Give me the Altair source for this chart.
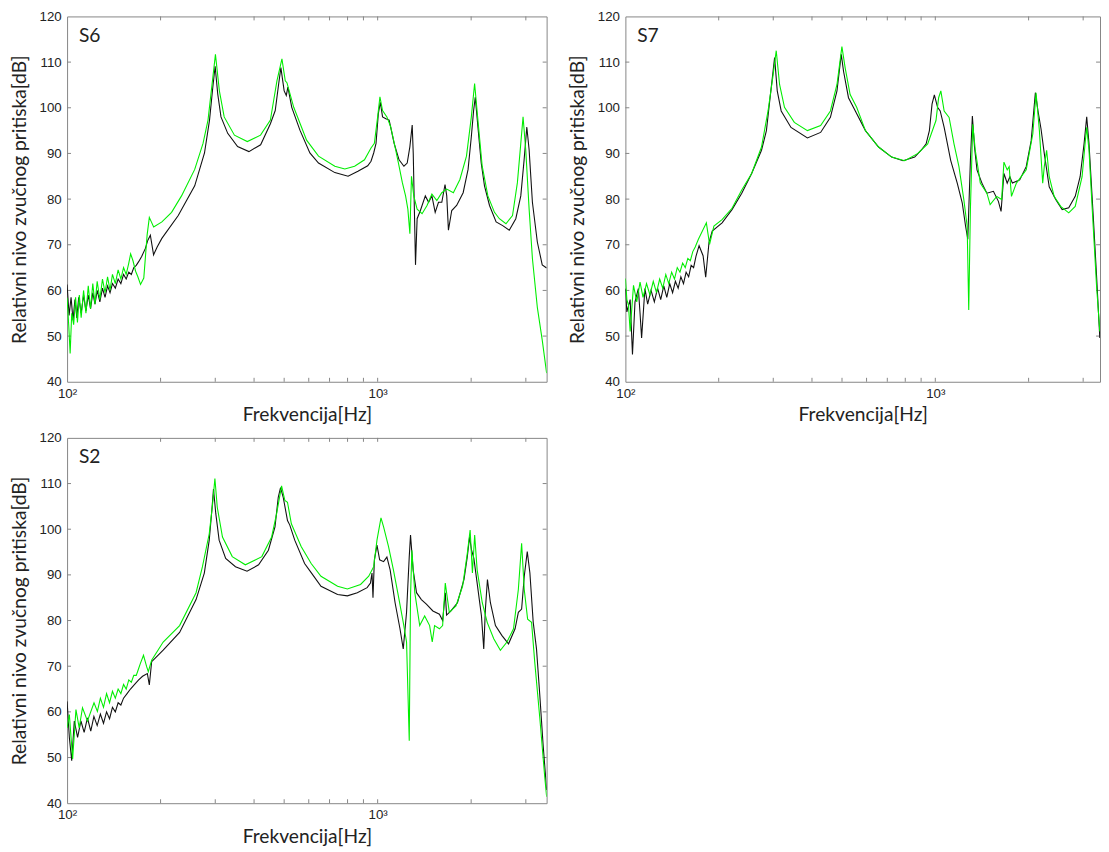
import altair as alt
import pandas as pd

# ---------------- data ----------------
s6_black_f = [100,101.5,103,104.5,106,107.5,109,111,113,115,117,119,121,123,125,127.5,130,132.5,135,137.5,140,143,146,149,152,155,158,161,164,167,170,174,178.7,182,185.4,189.9,195,201.9,228,257.6,277,287.5,294.6,299.7,305.6,313,329,354,385,420,451.5,468,480,488,500,508,514,529,562,605,645,728,803,864,929,952,971,988,1005,1020,1037,1063,1089,1130,1172,1215,1245,1270,1292,1302,1324,1340,1373,1424,1459,1495,1532,1570,1609,1648,1669,1690,1732,1796,1885,1955,2003,2037,2062,2103,2155,2208,2292,2407,2527,2653,2785,2890,2962,3022,3074,3150,3267,3388,3500]
s6_black_db = [61.3,54.5,58.5,53.5,58,54,58.5,55,59,55.5,59,56,59.5,57,60,57.5,60.5,58.5,61,59.5,61.5,60.5,62.5,61.5,63.5,62.5,64,63.5,65,65.5,66.3,67.5,69.2,71,72.1,67.8,69.5,71.4,76.4,82.9,90.1,97.3,104.5,109.1,103,98,94.4,91.5,90.4,91.9,96.5,99.4,105.2,108.8,103.7,102.7,104.5,100.1,95.1,90.1,87.9,85.8,85.0,86.1,87.3,88.3,90.1,92.2,98.7,101.2,98,97.6,97.3,92.2,88.6,87.2,87.9,91.5,96.2,90,65.6,75.7,77.5,80.7,79.3,80.7,77.1,79.3,79.3,83.2,80.7,73.2,77.5,78.6,81.4,86.5,93.7,99.4,102.3,95.8,87.9,82.9,78.6,75,74.2,73.2,75.7,80.7,88.6,95.8,90.8,79.3,70.6,65.6,64.9]

s6_green_f = [100,101.3,102.3,103.5,105,106.5,108,109.5,111,113,115,117,119,121,123,125,127.5,130,132.5,135,137.5,140,143,146,149,152,155,158,160.2,163,166.2,169,172.4,176.6,181,184,190,202,217,233.6,257.6,274,284.3,294.6,300.4,309.3,320.5,345.8,380.5,419.7,451.5,473.9,491.8,504.1,510.4,536.8,590.5,645,728,784,843,907,952,976,1000,1017,1037,1071,1102,1143,1172,1201,1230,1251,1270,1285,1307,1340,1390,1442,1495,1551,1609,1669,1753,1840,1932,2003,2052,2103,2171,2264,2378,2466,2589,2718,2818,2890,2939,2998,3074,3150,3267,3388,3500]
s6_green_db = [58.4,52,46.2,55,52.5,58.5,53,59,54,60,55,61,56,61.5,57,62,58,62.5,59.5,63,60,63.5,61.5,64.5,62.5,65,63.5,66,68,66.5,64.2,63,61.3,62.7,72.1,76,73.9,75,77.1,80.7,86.5,92.2,97.3,106.6,111.7,103.7,98,94,92.6,94,97.3,105.9,110.7,105.9,105.5,100.1,92.9,89.4,87.2,86.6,87.2,88.6,91.2,92.2,98,102.4,99.4,98,95.8,90.8,87.2,83.6,80.7,77.8,72.4,85,80.7,77.8,76.8,78.6,81.1,79.7,81.4,82.2,81.4,84.3,89.4,98,105.3,97.3,87.2,80.7,77.1,75.7,74.6,76.4,83.6,92.2,98,90.8,77.8,67,56.3,49.1,41.9]

s7_black_f = [100,101.1,103.6,105.4,107.4,110.1,111.5,112.8,115.6,118,121,124,127,130,133,136,139,142,145,148,151,154,157,160,163,166,169,172.9,178.1,181.6,186.1,190.6,205.1,220.8,237.4,255.5,274.9,285.1,292.2,297.9,303,309,318.2,342.2,386.7,426.5,458.7,481.6,497.2,505.7,524.6,544.1,595,656,723,787,858,900,934,957,976,993,1017,1037,1068,1121,1177,1222,1252,1273,1298,1317,1338,1363,1414,1467,1540,1598,1630,1665,1706,1740,1773,1872,1965,2039,2103,2145,2193,2247,2331,2446,2567,2695,2828,2933,3020,3080,3133,3233,3313,3395]
s7_black_db = [60.4,55.3,58,46,57.5,60.4,55,49.6,60.4,57,60,57.5,60.5,58,61,58.5,61.5,59.5,62,60.5,63,61.5,64,63,65.5,65,67.5,69.8,67.6,62.9,70.5,73,74.8,77.7,81.3,85.6,90.7,95,101.5,106.5,111,103.7,99.3,95.7,93.4,94.6,97.9,103.7,111.7,108,102.2,100.1,95,91.4,89.2,88.4,89.2,90.7,92.1,95,100.8,102.8,100.1,99.3,95.7,88.5,83.5,79.1,74.1,71.2,88.5,98.2,91.4,86.4,83.5,81.3,81.7,79.5,77.3,85.6,83.5,84.9,83.5,84.2,87.1,92.8,103.3,99.3,95.4,90,82.7,79.9,77.7,78.1,80.6,84.9,92.1,98,92.1,76.3,63.3,49.6]

s7_green_f = [100,101.1,102.3,103.6,106.2,108.8,111.5,114,117,120,123,126,129,132,135,138,141,144,147,150,153,156,159,162,165,168,172,182.5,186.9,193,205.1,220.8,237.4,255.5,274.9,288.6,298.7,306.7,314.4,326.1,350.8,386.7,426.5,458.7,481.6,499.6,512,531.1,557.5,595,656,723,797,879,945,1005,1025,1042,1068,1108,1149,1192,1236,1267,1282,1298,1321,1346,1397,1467,1503,1578,1637,1665,1706,1731,1761,1827,1965,2064,2114,2167,2221,2247,2287,2331,2418,2539,2695,2828,2976,3049,3080,3133,3201,3313,3395]
s7_green_db = [62.6,58,56.8,51,61.1,57.5,61.8,58.5,61.5,59,62,59.5,62.5,60.5,63.5,61.5,64,62.5,65,64,66,65,67,66.5,68.5,69.5,71.2,74.8,70.1,74.1,75.5,78,82,85.6,91.4,99.3,106.5,112.5,105.1,100.1,96.8,95,96.1,99.3,105.1,113.4,108.7,102.9,100.1,95,91.4,89.2,88.4,90,92.1,97.2,102.2,103.7,99.3,97.9,92.1,87.1,79.9,74.1,55.7,77.7,96.4,90.7,83.5,81.3,78.8,80.6,79.9,88.1,86.4,87.1,80.6,83.5,86.4,94.3,103.3,95,83.5,87.1,90.7,84.9,80.6,78.4,77,78.4,84.9,92.8,95.7,90.7,79.1,61.1,51]

s2_black_f = [100,101.7,103.5,105.5,108.1,110.8,113.5,116.3,119.2,122,125,128,131,134,137,140,143,146,149,152,156,160,165,170,175,181.3,184,187.2,203.9,230.3,260.2,276.6,286.9,292.5,296.1,301.2,308.7,324.1,348.5,379.7,413.6,444.9,467.1,478.6,486.8,496.5,512.5,521.4,540.8,581.8,610.9,657,743,799,860,925,948,959,966,976,995,1015,1045,1071,1097,1138,1180,1209,1239,1264,1276,1301,1334,1383,1435,1506,1581,1619,1651,1667,1722,1807,1897,1944,1977,2006,2041,2091,2159,2196,2223,2257,2307,2395,2514,2639,2770,2838,2908,2965,3032,3092,3169,3247,3327,3409,3500]
s2_black_db = [62.3,54.4,49.3,58,54.4,58,55.5,58.7,55.8,59,57,59.5,57.5,60,58.5,61,60,62,61.5,63,64,65,66,67,67.8,68.4,65.9,71,73.5,77.4,84.6,90.4,97.6,104.1,108.8,103.4,97.6,93.6,91.8,90.8,92.2,95.4,100.5,107,109.1,107,101.9,100.9,97.6,92.5,90.5,87.5,85.7,85.4,86.1,87.2,88.2,90.4,85,93.3,96.5,93.3,92.9,93.9,91.1,83.9,78.2,73.8,81.8,94,98.7,91.1,86.1,84.6,83.6,82.1,81.4,80,86.1,81.2,82.1,83.9,89,94,98.3,95.4,93.6,88.2,81,73.8,82.5,89,83.9,78.9,76.7,74.9,78.2,81.8,82.5,89.7,95.1,90.4,79.6,73.8,63.7,52.9,42.9]

s2_green_f = [100,101.7,104.2,106.8,109.4,112.1,116.3,122.1,125.2,128,131,134,137,140,143,146,149,152,155,158,161,164,167,170,172,176.2,180.4,182.6,187.2,203.9,230.3,260.2,272.8,286.9,294.1,299.2,304.5,316.5,340.3,375,423.7,455.7,472.8,490.5,502.5,512.5,527.4,567.1,610.9,657,743,799,881,936,971,995,1025,1045,1084,1124,1166,1209,1239,1264,1276,1289,1317,1366,1417,1470,1499,1525,1581,1619,1651,1701,1787,1877,1944,1985,2019,2053,2091,2172,2253,2365,2484,2608,2738,2838,2908,2965,3040,3130,3205,3327,3452,3500]
s2_green_db = [56.5,59.4,49.7,60.5,56.5,60.9,58,62,60.1,63,61,64,62,64.5,63,65,64,66,65,67,66.5,68,68,69.5,70.5,72.4,69.9,68.8,71.3,75.3,78.9,86.1,91.8,99,105.5,111.1,104.8,98.3,94,92.2,94,98.3,103.4,109.5,106.3,105.9,101.2,96.2,92.5,89.7,87.5,86.9,87.9,89.7,91.8,97.6,102.5,100.5,96.2,91.1,85.4,79.6,75.3,53.7,85.4,95.4,86.1,78.9,81,78.9,75.3,78.9,78.2,78.9,88.2,81.8,83.2,87.5,94.7,99.8,90.4,98.7,91.1,83.9,79.6,76,73.5,75.3,78.2,86.8,96.9,86.8,80.3,79.6,70.9,58.7,45.7,41.4]

x_minor_ticks = [200, 300, 400, 500, 600, 700, 800, 900, 1000, 2000, 3000]
y_ticks = [50, 60, 70, 80, 90, 100, 110]
y_label_values = [40, 50, 60, 70, 80, 90, 100, 110, 120]
x_label_values = [100, 1000]

FRAME = "#858585"
BLACK = "#111111"
GREEN = "#00ee00"
TICK_LEN = 4
PANEL_H = 371


def panel(name, bf, bdb, gf, gdb, width, xmax):
    xenc = alt.X("f:Q",
                 scale=alt.Scale(type="log", domain=[100, xmax], nice=False),
                 axis=alt.Axis(values=x_label_values,
                               labelExpr="datum.value == 100 ? '10²' : '10³'",
                               labelFlush=False, labelPadding=5,
                               title="Frekvencija[Hz]", titlePadding=6))
    yenc = alt.Y("db:Q",
                 scale=alt.Scale(domain=[40, 120], nice=False),
                 axis=alt.Axis(values=y_label_values, labelPadding=6,
                               title="Relativni nivo zvučnog pritiska[dB]",
                               titlePadding=10))
    black = alt.Chart(pd.DataFrame({"f": bf, "db": bdb})).mark_line(
        color=BLACK, strokeWidth=1.1, clip=True).encode(x=xenc, y=yenc)
    green = alt.Chart(pd.DataFrame({"f": gf, "db": gdb})).mark_line(
        color=GREEN, strokeWidth=1.1, clip=True).encode(x=xenc, y=yenc)
    xt = pd.DataFrame({"f": [t for t in x_minor_ticks if t < xmax]})
    yt = pd.DataFrame({"db": y_ticks})
    tb = alt.Chart(xt).mark_rule(color=FRAME).encode(
        x=xenc, y=alt.value(PANEL_H), y2=alt.value(PANEL_H - TICK_LEN))
    tt = alt.Chart(xt).mark_rule(color=FRAME).encode(
        x=xenc, y=alt.value(0), y2=alt.value(TICK_LEN))
    tl = alt.Chart(yt).mark_rule(color=FRAME).encode(
        y=yenc, x=alt.value(0), x2=alt.value(TICK_LEN))
    tr = alt.Chart(yt).mark_rule(color=FRAME).encode(
        y=yenc, x=alt.value(width - TICK_LEN), x2=alt.value(width))
    lab = alt.Chart(pd.DataFrame({"label": [name]})).mark_text(
        align="left", baseline="alphabetic", font="Lato", fontSize=19.5,
        color="#222222").encode(text="label:N", x=alt.value(12), y=alt.value(26))
    return alt.layer(tb, tt, tl, tr, black, green, lab).properties(
        width=width, height=PANEL_H)


s6 = panel("S6", s6_black_f, s6_black_db, s6_green_f, s6_green_db, 487, 3500)
s7 = panel("S7", s7_black_f, s7_black_db, s7_green_f, s7_green_db, 482, 3400)
s2 = panel("S2", s2_black_f, s2_black_db, s2_green_f, s2_green_db, 487, 3500)

top = alt.hconcat(s6, s7, spacing=19)
chart = alt.vconcat(top, s2, spacing=5).properties(
    padding={"left": 0, "top": -6, "right": 0, "bottom": 0}
).configure_view(stroke=FRAME, strokeWidth=1).configure_axis(
    domain=False, grid=False, ticks=False,
    labelFont="Liberation Sans", labelFontSize=13.5, labelColor="#222222",
    titleFont="Lato", titleFontSize=19.5, titleFontWeight="normal",
    titleColor="#222222")

chart.save("out.html", embed_options={"renderer": "svg", "actions": False})
